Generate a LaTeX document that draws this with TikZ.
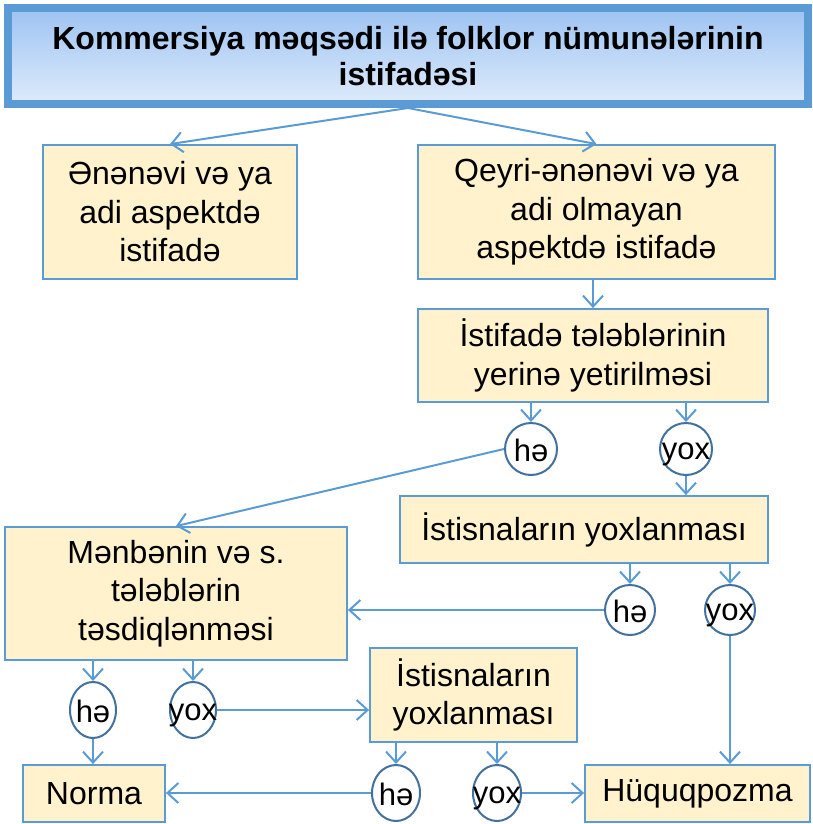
\documentclass[tikz,border=0pt]{standalone}
\usepackage{fontspec}
\setmainfont{Liberation Sans}
\usetikzlibrary{arrows.meta,shapes.geometric}
\definecolor{lnblue}{HTML}{5B9BD5}
\definecolor{circblue}{HTML}{41719C}
\definecolor{boxfill}{HTML}{FFF2CC}
\definecolor{titletop}{HTML}{9DC3F2}
\definecolor{titlebot}{HTML}{DEEBFB}
\begin{document}
\begin{tikzpicture}[x=1pt,y=-1pt,
  box/.style={draw=lnblue, line width=1.8pt, fill=boxfill, align=center, inner sep=0pt,
    font=\fontsize{32}{38.5}\selectfont},
  titlebox/.style={draw=lnblue, line width=8pt, top color=titletop, bottom color=titlebot,
    align=center, inner sep=0pt, font=\bfseries\fontsize{32}{36}\selectfont},
  yn/.style={ellipse, draw=circblue, line width=2pt, fill=white, inner sep=0pt},
  yes/.style={yn, label={[font=\fontsize{31}{36}\selectfont, inner sep=0pt, yshift=-1pt]center:hə}},
  no/.style={yn, label={[font=\fontsize{31}{36}\selectfont, inner sep=0pt, yshift=-5pt]center:yox}},
  conn/.style={draw=lnblue, line width=2pt, -{Straight Barb[length=11pt,width=20pt]}}
]
\useasboundingbox (0,0) rectangle (813,824);

\node[titlebox, minimum width=800pt, minimum height=96pt] (title) at (408,56)
  {Kommersiya məqsədi ilə folklor nümunələrinin\\istifadəsi};

\node[box, minimum width=254pt, minimum height=134pt] (A) at (170,212)
  {Ənənəvi və ya\\adi aspektdə\\istifadə};
\node[box, minimum width=357pt, minimum height=134pt] (B) at (596.5,212)
  {Qeyri-ənənəvi və ya\\adi olmayan\\aspektdə istifadə};
\node[box, minimum width=350pt, minimum height=93pt] (C) at (593,355.5)
  {İstifadə tələblərinin\\yerinə yetirilməsi};
\node[box, minimum width=368pt, minimum height=67pt] (D) at (584,529.5)
  {İstisnaların yoxlanması};
\node[box, minimum width=342pt, minimum height=133pt] (E) at (176,593.5)
  {Mənbənin və s.\\tələblərin\\təsdiqlənməsi};
\node[box, minimum width=207pt, minimum height=94pt] (F) at (473.5,695)
  {İstisnaların\\yoxlanması};
\node[box, minimum width=142pt, minimum height=57pt] (N) at (94,793.5) {Norma};
\node[box, minimum width=225pt, minimum height=57pt] (H) at (697.5,793.5) {Hüquqpozma};

\node[yes, minimum width=52pt, minimum height=52pt] (c1) at (531,449) {};
\node[no, minimum width=52pt, minimum height=52pt] (c2) at (686,449) {};
\node[yes, minimum width=50pt, minimum height=50pt] (c3) at (630,610) {};
\node[no, minimum width=50pt, minimum height=50pt] (c4) at (730,610) {};
\node[yes, minimum width=46pt, minimum height=56pt] (e1) at (93,710) {};
\node[no, minimum width=46pt, minimum height=56pt] (e2) at (193,710) {};
\node[yes, minimum width=48pt, minimum height=56pt] (e3) at (396,793) {};
\node[no, minimum width=48pt, minimum height=56pt] (e4) at (497,793) {};

\draw[conn] (title.south) -- (A.north);
\draw[conn] (title.south) -- (B.north);
\draw[conn] (C.north |- B.south) -- (C.north);
\draw[conn] (C.south -| c1) -- (c1.north);
\draw[conn] (C.south -| c2) -- (c2.north);
\draw[conn] (c2.south) -- (D.north -| c2);
\draw[conn] (c1.west) -- (E.north);
\draw[conn] (D.south -| c3) -- (c3.north);
\draw[conn] (D.south -| c4) -- (c4.north);
\draw[conn] (c3.west) -- (c3.west -| E.east);
\draw[conn] (c4.south) -- (c4.south |- H.north);
\draw[conn] (E.south -| e1) -- (e1.north);
\draw[conn] (E.south -| e2) -- (e2.north);
\draw[conn] (e2.east) -- (e2.east -| F.west);
\draw[conn] (e1.south) -- (e1.south |- N.north);
\draw[conn] (F.south -| e3) -- (e3.north);
\draw[conn] (F.south -| e4) -- (e4.north);
\draw[conn] (e3.west) -- (e3.west -| N.east);
\draw[conn] (e4.east) -- (e4.east -| H.west);
\end{tikzpicture}
\end{document}
